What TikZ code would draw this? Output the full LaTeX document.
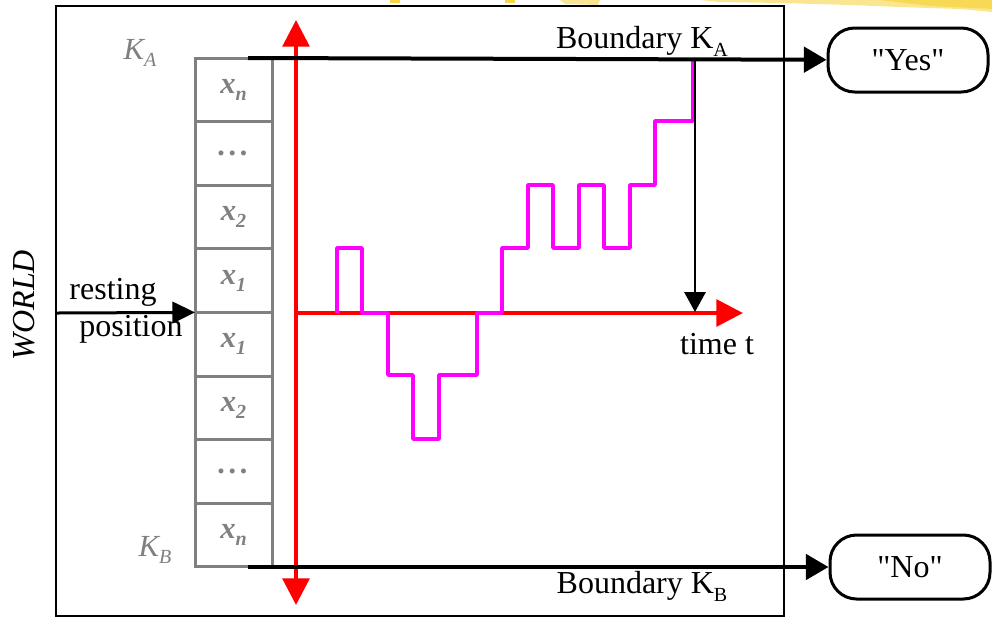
\documentclass[tikz,border=0pt]{standalone}
\usepackage{fontspec}
\setmainfont{Liberation Serif}
\newfontfamily\qfont{Liberation Serif}[Ligatures=TeXOff]
\usetikzlibrary{arrows.meta}
\definecolor{cellgray}{RGB}{128,128,128}
\definecolor{mag}{RGB}{255,0,255}
\definecolor{yel}{RGB}{246,214,70}
\newcommand{\mysub}[1]{\raisebox{-0.25em}{\fontsize{15}{15}\selectfont #1}}
\newcommand{\cellsub}[1]{\raisebox{-0.22em}{\fontsize{15}{15}\selectfont #1}}
\newcommand{\celldots}{.\hspace{0.12em}.\hspace{0.12em}.}
\begin{document}
\begin{tikzpicture}[x=0.75pt,y=-0.75pt,
  cell/.style={draw=cellgray, line width=2.25pt, minimum width=57.75pt, minimum height=47.7pt,
    inner sep=0pt, outer sep=0pt, text=cellgray, font=\fontsize{23}{23}\selectfont\bfseries\itshape},
  answer/.style={draw, line width=2.25pt, rounded corners=20pt, minimum width=120pt,
    minimum height=48pt, inner sep=0pt, font=\fontsize{24}{24}\selectfont\qfont},
  lbl/.style={inner sep=0pt, font=\fontsize{24}{24}\selectfont},
  klbl/.style={inner sep=0pt, text=cellgray, font=\fontsize{23}{23}\selectfont\itshape},
  redax/.style={draw=red, line width=3pt},
  redtip/.style={-{Triangle[length=20pt,width=20pt]}},
  bound/.style={draw, line width=3pt, -{Triangle[length=17pt,width=19pt]}},
  stair/.style={draw=mag, line width=2.6pt, line join=round},
]
\useasboundingbox (0,0) rectangle (992,619);
% yellow decoration at top
\fill[yel] (390,0) rectangle (400,3);
\fill[yel] (505,0) rectangle (515,3);
\fill[yel, opacity=0.6] (560,0) -- (600,0) -- (598,5) -- (565,4) -- cycle;
\fill[yel, opacity=0.6] (700,0) -- (992,0) -- (992,12) -- (960,9) -- (900,7) -- (850,5) -- (780,3) -- (720,2) -- cycle;
\fill[yel, opacity=0.8] (880,0) -- (992,0) -- (992,9) -- (930,6) -- cycle;
% frame
\node[draw, line width=1.1pt, minimum width=546pt, minimum height=457.5pt, inner sep=0pt] (frame) at (420,311) {};
% cells
\node[cell] (c1) at (233.5,89.8) {x\cellsub{n}};
\node[cell] (c2) at (233.5,153.4) {\celldots};
\node[cell] (c3) at (233.5,217.0) {x\cellsub{2}};
\node[cell] (c4) at (233.5,280.6) {x\cellsub{1}};
\node[cell] (c5) at (233.5,344.2) {x\cellsub{1}};
\node[cell] (c6) at (233.5,407.8) {x\cellsub{2}};
\node[cell] (c7) at (233.5,471.4) {\celldots};
\node[cell] (c8) at (233.5,535.0) {x\cellsub{n}};
\node[klbl] (ka) at (140,53) {K\mysub{A}};
\node[klbl] (kb) at (155,550) {K\mysub{B}};
% world
\node[lbl, rotate=90, font=\fontsize{24}{24}\selectfont\itshape] (world) at (24,305) {WORLD};
\coordinate (restin) at (57,313);
\draw[line width=2.25pt, -{Triangle[length=17pt,width=16pt]}] (restin) -- (c4.south west);
\node[lbl] (rest1) at (113,292) {resting};
\node[lbl] (rest2) at (131,329) {position};
% red axes
\coordinate (vtop) at (296,20);
\coordinate (vbot) at (296,605);
\coordinate (orig) at (296,313);
\coordinate (tend) at (743,313);
\draw[redax, {Triangle[length=20pt,width=20pt]}-{Triangle[length=20pt,width=20pt]}] (vbot) -- (vtop);
\draw[redax, redtip] (orig) -- (tend);
\node[lbl] (time) at (717,344) {time t};
% staircase
\draw[stair] (337,313) -- (337,248) -- (362,248) -- (362,313) -- (388,313) -- (388,375)
  -- (413,375) -- (413,439) -- (439,439) -- (439,375) -- (477,375) -- (477,313)
  -- (502,313) -- (502,248) -- (528,248) -- (528,185) -- (553,185) -- (553,248)
  -- (579,248) -- (579,185) -- (604,185) -- (604,248) -- (630,248) -- (630,185)
  -- (655,185) -- (655,121) -- (693,121) -- (693,58);
% hit arrow
\coordinate (hittop) at (695,58);
\coordinate (hitbot) at (695,312);
\draw[line width=1.5pt, -{Triangle[length=15pt,width=16pt]}] (hittop) -- (hitbot);
% answers
\node[answer] (yes) at (908,60) {"Yes"};
\node[answer] (no) at (910,567) {"No"};
\coordinate (ba) at (248,58);
\coordinate (bb) at (248,567);
\draw[bound] (ba) -- (yes);
\draw[bound] (bb) -- (no);
\node[lbl] (blA) at (642,41) {Boundary K\mysub{A}};
\node[lbl] (blB) at (642,586) {Boundary K\mysub{B}};
\end{tikzpicture}
\end{document}
